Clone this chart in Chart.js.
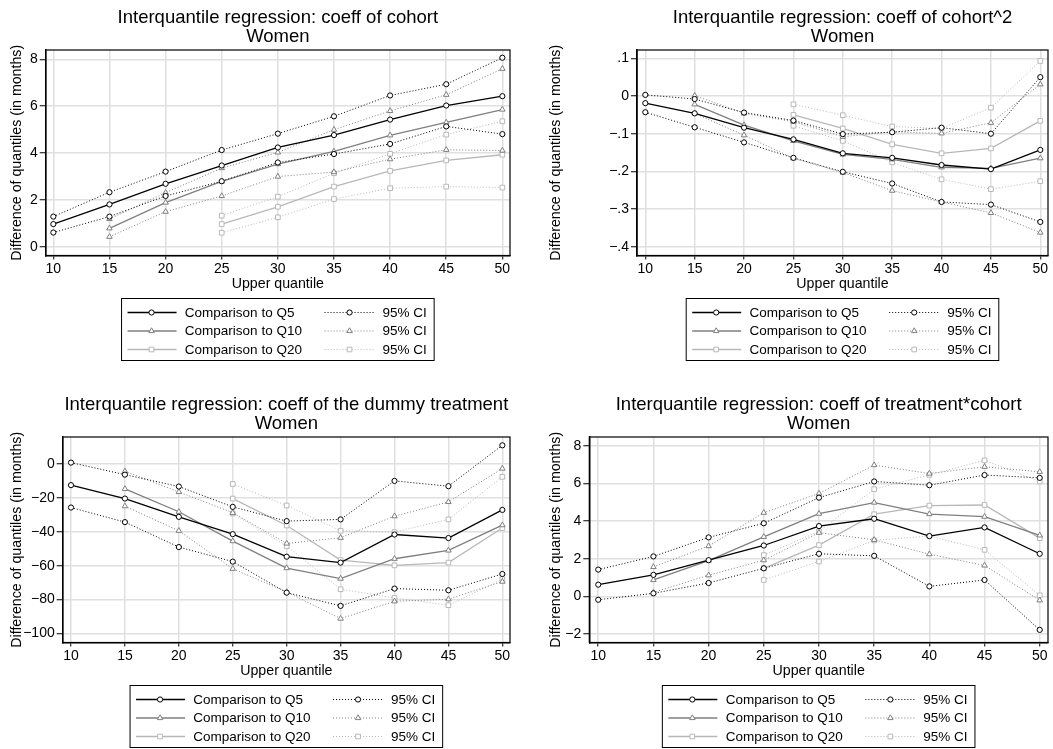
<!DOCTYPE html>
<html>
<head>
<meta charset="utf-8">
<script src="https://cdn.jsdelivr.net/npm/chart.js@4.4.1/dist/chart.umd.min.js"></script>
<style>
  body { margin: 0; background: #fff; width: 1053px; height: 749px; overflow: hidden; position: relative; }
  canvas { position: absolute; }
</style>
</head>
<body>
<canvas id="p1" width="526" height="362" style="left:0;top:0"></canvas>
<canvas id="p2" width="527" height="362" style="left:526px;top:0"></canvas>
<canvas id="p3" width="526" height="362" style="left:0;top:387px"></canvas>
<canvas id="p4" width="527" height="362" style="left:526px;top:387px"></canvas>
<script>
// x positions (upper quantile) for each comparison
const quantilesQ5 = [10, 15, 20, 25, 30, 35, 40, 45, 50];
const quantilesQ10 = [15, 20, 25, 30, 35, 40, 45, 50];
const quantilesQ20 = [25, 30, 35, 40, 45, 50];
const xTickValues = [10, 15, 20, 25, 30, 35, 40, 45, 50];

// coeff of cohort
const cohortQ5 = [0.97, 1.81, 2.69, 3.47, 4.24, 4.77, 5.43, 6.03, 6.43];
const cohortQ5Hi = [1.29, 2.33, 3.21, 4.13, 4.83, 5.57, 6.46, 6.94, 8.07];
const cohortQ5Lo = [0.61, 1.29, 2.17, 2.80, 3.60, 3.96, 4.39, 5.14, 4.81];
const cohortQ10 = [0.79, 1.89, 2.79, 3.53, 4.07, 4.76, 5.31, 5.86];
const cohortQ10Hi = [1.19, 2.31, 3.36, 4.03, 5.00, 5.80, 6.49, 7.60];
const cohortQ10Lo = [0.43, 1.50, 2.17, 3.00, 3.19, 3.74, 4.14, 4.11];
const cohortQ20 = [0.97, 1.71, 2.57, 3.24, 3.69, 3.93];
const cohortQ20Hi = [1.33, 2.14, 3.14, 3.97, 4.79, 5.36];
const cohortQ20Lo = [0.60, 1.26, 2.04, 2.50, 2.57, 2.53];
const cohortTicks = [0, 2, 4, 6, 8];
const cohortTickLabels = ['0', '2', '4', '6', '8'];

// coeff of cohort^2
const cohort2Q5 = [-0.019, -0.046, -0.084, -0.115, -0.152, -0.164, -0.183, -0.194, -0.143];
const cohort2Q5Hi = [0.003, -0.008, -0.044, -0.065, -0.101, -0.096, -0.084, -0.100, 0.050];
const cohort2Q5Lo = [-0.043, -0.083, -0.123, -0.164, -0.201, -0.232, -0.281, -0.288, -0.334];
const cohort2Q10 = [-0.022, -0.077, -0.119, -0.155, -0.168, -0.189, -0.192, -0.165];
const cohort2Q10Hi = [0.001, -0.046, -0.068, -0.108, -0.095, -0.099, -0.071, 0.031];
const cohort2Q10Lo = [-0.046, -0.104, -0.165, -0.203, -0.251, -0.281, -0.310, -0.362];
const cohort2Q20 = [-0.050, -0.086, -0.128, -0.152, -0.139, -0.066];
const cohort2Q20Hi = [-0.022, -0.051, -0.081, -0.086, -0.031, 0.093];
const cohort2Q20Lo = [-0.079, -0.119, -0.176, -0.221, -0.247, -0.226];
const cohort2Ticks = [-0.4, -0.3, -0.2, -0.1, 0, 0.1];
const cohort2TickLabels = ['\u2212.4', '\u2212.3', '\u2212.2', '\u2212.1', '0', '.1'];

// coeff of the dummy treatment
const treatQ5 = [-12.5, -20.4, -31.2, -41.4, -54.7, -58.2, -41.6, -43.7, -27.1];
const treatQ5Hi = [0.8, -6.3, -13.3, -25.3, -33.7, -32.7, -10.0, -13.1, 11.0];
const treatQ5Lo = [-25.7, -34.3, -49.0, -57.6, -75.9, -83.7, -73.5, -74.5, -64.9];
const treatQ10 = [-14.7, -28.2, -45.5, -61.4, -67.6, -55.9, -51.0, -36.1];
const treatQ10Hi = [-4.3, -16.5, -28.8, -46.9, -43.5, -30.8, -22.4, -2.7];
const treatQ10Lo = [-24.9, -39.4, -61.8, -75.5, -91.2, -81.0, -79.8, -69.4];
const treatQ20 = [-20.4, -36.3, -56.7, -59.8, -58.2, -37.8];
const treatQ20Hi = [-11.8, -24.5, -39.4, -40.2, -32.7, -7.6];
const treatQ20Lo = [-29.2, -48.4, -73.9, -79.0, -83.3, -68.0];
const treatTicks = [-100, -80, -60, -40, -20, 0];
const treatTickLabels = ['\u2212100', '\u221280', '\u221260', '\u221240', '\u221220', '0'];

// coeff of treatment*cohort
const interQ5 = [0.62, 1.14, 1.92, 2.70, 3.73, 4.12, 3.20, 3.66, 2.26];
const interQ5Hi = [1.42, 2.12, 3.13, 3.88, 5.24, 6.10, 5.90, 6.44, 6.29];
const interQ5Lo = [-0.18, 0.16, 0.71, 1.49, 2.26, 2.15, 0.53, 0.87, -1.78];
const interQ10 = [0.87, 1.90, 3.16, 4.39, 4.98, 4.37, 4.23, 3.24];
const interQ10Hi = [1.56, 2.67, 4.44, 5.46, 6.97, 6.52, 6.88, 6.61];
const interQ10Lo = [0.21, 1.12, 1.92, 3.38, 3.00, 2.24, 1.64, -0.21];
const interQ20 = [1.49, 2.72, 4.36, 4.82, 4.85, 3.09];
const interQ20Hi = [2.19, 3.45, 5.69, 6.45, 7.22, 6.10];
const interQ20Lo = [0.87, 1.85, 2.97, 3.20, 2.47, 0.05];
const interTicks = [-2, 0, 2, 4, 6, 8];
const interTickLabels = ['\u22122', '0', '2', '4', '6', '8'];

const legendLabels = ['Comparison to Q5', 'Comparison to Q10', 'Comparison to Q20'];
const ciLabel = '95% CI';
const subTitle = 'Women';
const yTitle = 'Difference of quantiles (in months)';
const xTitle = 'Upper quantile';

const FONT = '"Liberation Sans", Arial, Helvetica, sans-serif';
Chart.defaults.font.family = FONT;
Chart.defaults.color = '#000';

const looks = [
    { color: '#000000', point: 'circle', radius: 2.6 },
    { color: '#7f7f7f', point: 'triangle', radius: 3.2 },
    { color: '#b8b8b8', point: 'rect', radius: 3.3 }
];

const panels = [
    {
        id: 'p1', title: 'Interquantile regression: coeff of cohort',
        x: [quantilesQ5, quantilesQ10, quantilesQ20],
        main: [cohortQ5, cohortQ10, cohortQ20],
        lo: [cohortQ5Lo, cohortQ10Lo, cohortQ20Lo],
        hi: [cohortQ5Hi, cohortQ10Hi, cohortQ20Hi],
        ticks: cohortTicks, tickLabels: cohortTickLabels,
        xMin: 9.32, xMax: 50.68, yMin: -0.37, yMax: 8.4,
        plotLeft: 45.7, padRight: 16, yTitlePad: 8.2
    },
    {
        id: 'p2', title: 'Interquantile regression: coeff of cohort^2',
        x: [quantilesQ5, quantilesQ10, quantilesQ20],
        main: [cohort2Q5, cohort2Q10, cohort2Q20],
        lo: [cohort2Q5Lo, cohort2Q10Lo, cohort2Q20Lo],
        hi: [cohort2Q5Hi, cohort2Q10Hi, cohort2Q20Hi],
        ticks: cohort2Ticks, tickLabels: cohort2TickLabels,
        xMin: 9.16, xMax: 50.78, yMin: -0.423, yMax: 0.122,
        plotLeft: 111, padRight: 4, yTitlePad: 21.5
    },
    {
        id: 'p3', title: 'Interquantile regression: coeff of the dummy treatment',
        x: [quantilesQ5, quantilesQ10, quantilesQ20],
        main: [treatQ5, treatQ10, treatQ20],
        lo: [treatQ5Lo, treatQ10Lo, treatQ20Lo],
        hi: [treatQ5Hi, treatQ10Hi, treatQ20Hi],
        ticks: treatTicks, tickLabels: treatTickLabels,
        xMin: 9.23, xMax: 50.71, yMin: -105.3, yMax: 15.9,
        plotLeft: 62.7, padRight: 16, yTitlePad: 8.2
    },
    {
        id: 'p4', title: 'Interquantile regression: coeff of treatment*cohort',
        x: [quantilesQ5, quantilesQ10, quantilesQ20],
        main: [interQ5, interQ10, interQ20],
        lo: [interQ5Lo, interQ10Lo, interQ20Lo],
        hi: [interQ5Hi, interQ10Hi, interQ20Hi],
        ticks: interTicks, tickLabels: interTickLabels,
        xMin: 9.19, xMax: 50.75, yMin: -2.45, yMax: 8.46,
        plotLeft: 63.3, padRight: 3, yTitlePad: 21.5
    }
];

function pairs(xs, ys) {
    return xs.map((x, i) => ({ x: x, y: ys[i] }));
}

function marker(ctx, style, x, y, r, color) {
    ctx.save();
    ctx.setLineDash([]);
    ctx.strokeStyle = color;
    ctx.fillStyle = '#fff';
    ctx.lineWidth = 1;
    ctx.beginPath();
    if (style === 'circle') {
        ctx.arc(x, y, r, 0, Math.PI * 2);
    } else if (style === 'triangle') {
        ctx.moveTo(x, y - r);
        ctx.lineTo(x + r * Math.sin(Math.PI * 2 / 3), y - r * Math.cos(Math.PI * 2 / 3));
        ctx.lineTo(x + r * Math.sin(Math.PI * 4 / 3), y - r * Math.cos(Math.PI * 4 / 3));
        ctx.closePath();
    } else {
        const s = r * Math.SQRT1_2;
        ctx.rect(x - s, y - s, 2 * s, 2 * s);
    }
    ctx.fill();
    ctx.stroke();
    ctx.restore();
}

// frame, two-line title and the boxed two-column legend
const decor = {
    id: 'decor',
    afterDraw(chart, args, opts) {
        const { ctx, chartArea: a } = chart;
        ctx.save();
        ctx.strokeStyle = '#000';
        ctx.lineWidth = 1.2;
        ctx.strokeRect(a.left, a.top, a.right - a.left, a.bottom - a.top);

        const cx = (a.left + a.right) / 2;
        ctx.fillStyle = '#000';
        ctx.textAlign = 'center';
        ctx.textBaseline = 'alphabetic';
        ctx.font = '18.5px ' + FONT;
        ctx.fillText(opts.title, cx, 23.3);
        ctx.fillText(subTitle, cx, 41.5);

        const bw = 312.6, bh = 62, bx = cx - bw / 2, by = a.bottom + 43;
        ctx.lineWidth = 1;
        ctx.strokeRect(bx, by, bw, bh);
        ctx.font = '13.5px ' + FONT;
        ctx.textAlign = 'left';
        ctx.textBaseline = 'middle';
        looks.forEach((s, i) => {
            const y = by + 14 + i * 18.5;
            ctx.strokeStyle = s.color;
            ctx.lineWidth = 1.3;
            ctx.setLineDash([]);
            ctx.beginPath(); ctx.moveTo(bx + 6, y); ctx.lineTo(bx + 55, y); ctx.stroke();
            marker(ctx, s.point, bx + 30, y, s.radius, s.color);
            ctx.fillStyle = '#000';
            ctx.fillText(legendLabels[i], bx + 63.3, y + 0.5);

            ctx.strokeStyle = s.color;
            ctx.lineWidth = 1;
            ctx.setLineDash([1, 2]);
            ctx.beginPath(); ctx.moveTo(bx + 203, y); ctx.lineTo(bx + 253, y); ctx.stroke();
            ctx.setLineDash([]);
            marker(ctx, s.point, bx + 228, y, s.radius, s.color);
            ctx.fillStyle = '#000';
            ctx.fillText(ciLabel, bx + 261, y + 0.5);
        });
        ctx.restore();
    }
};

function makeChart(p) {
    const datasets = [];
    looks.forEach((s, i) => {
        const base = {
            borderColor: s.color,
            pointStyle: s.point,
            pointRadius: s.radius,
            pointBorderColor: s.color,
            pointBackgroundColor: '#fff',
            pointBorderWidth: 1,
            fill: false,
            tension: 0
        };
        datasets.push(Object.assign({}, base, { data: pairs(p.x[i], p.main[i]), borderWidth: 1.3 }));
        datasets.push(Object.assign({}, base, { data: pairs(p.x[i], p.lo[i]), borderWidth: 1, borderDash: [1, 2] }));
        datasets.push(Object.assign({}, base, { data: pairs(p.x[i], p.hi[i]), borderWidth: 1, borderDash: [1, 2] }));
    });

    const tickFont = { size: 14, family: FONT };
    const titleFont = { size: 14.2, family: FONT };
    const grid = { color: '#e0e0e0', lineWidth: 1.5, tickColor: '#000', tickWidth: 1 };

    return new Chart(document.getElementById(p.id), {
        type: 'line',
        data: { datasets: datasets },
        options: {
            responsive: false,
            animation: false,
            events: [],
            layout: { padding: { top: 50, right: p.padRight, bottom: 69, left: 0 } },
            plugins: {
                legend: { display: false },
                tooltip: { enabled: false },
                decor: { title: p.title }
            },
            scales: {
                x: {
                    type: 'linear',
                    min: p.xMin,
                    max: p.xMax,
                    afterBuildTicks: axis => { axis.ticks = xTickValues.map(v => ({ value: v })); },
                    afterFit: axis => { axis.height = 37.5; axis.paddingLeft = 0; axis.paddingRight = 0; },
                    grid: Object.assign({}, grid, { tickLength: 4 }),
                    border: { display: true, color: '#000', width: 1.5 },
                    ticks: { font: tickFont, color: '#000', padding: 1, autoSkip: false, maxRotation: 0, callback: v => String(v) },
                    title: { display: true, text: xTitle, font: titleFont, color: '#000', padding: 0 }
                },
                y: {
                    type: 'linear',
                    min: p.yMin,
                    max: p.yMax,
                    afterBuildTicks: axis => { axis.ticks = p.ticks.map(v => ({ value: v })); },
                    afterFit: axis => { axis.width = p.plotLeft; axis.paddingTop = 0; axis.paddingBottom = 0; },
                    grid: Object.assign({}, grid, { tickLength: 6 }),
                    border: { display: true, color: '#000', width: 1.5 },
                    ticks: { font: tickFont, color: '#000', padding: 2, autoSkip: false, callback: (v, i) => p.tickLabels[i] },
                    title: { display: true, text: yTitle, font: titleFont, color: '#000', padding: { top: p.yTitlePad, bottom: 0 } }
                }
            }
        },
        plugins: [decor]
    });
}

panels.forEach(makeChart);
</script>
</body>
</html>
